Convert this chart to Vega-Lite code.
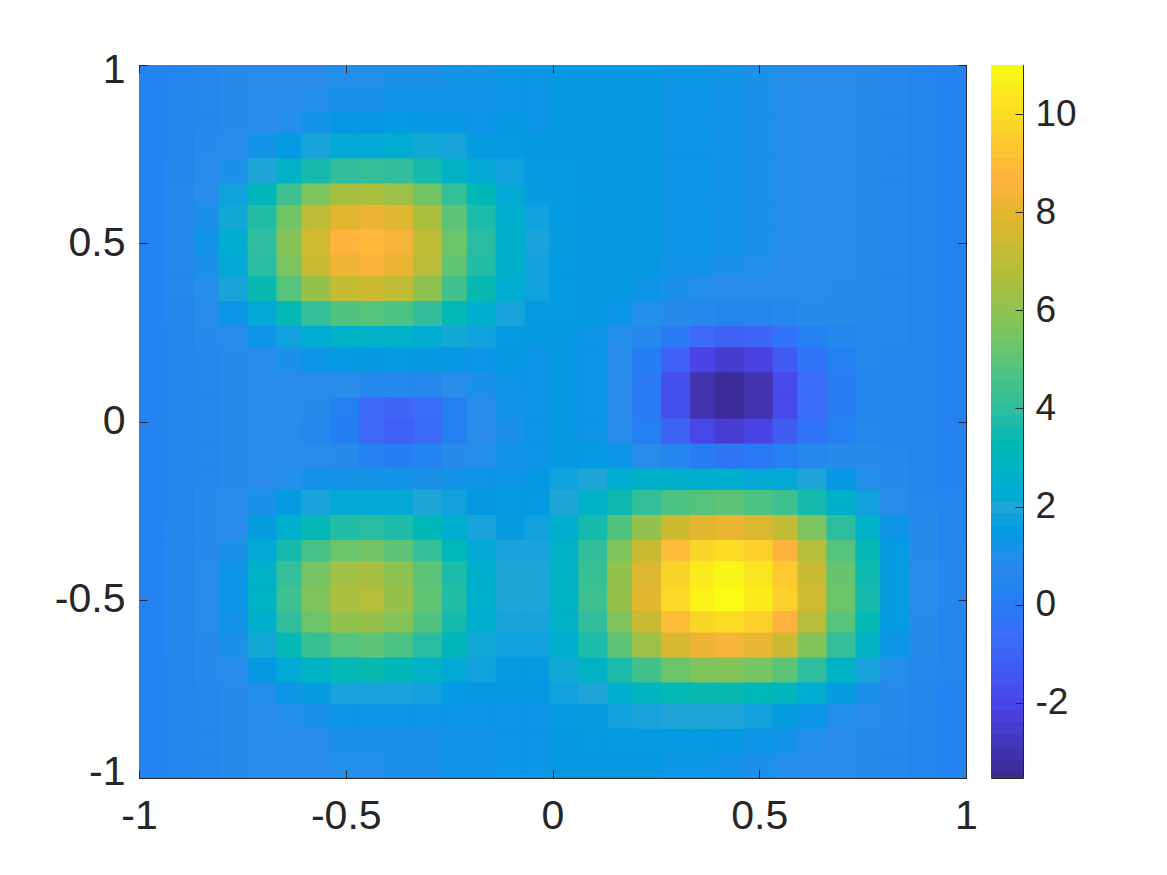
{"$schema":"https://vega.github.io/schema/vega-lite/v6.json","background":"white","padding":{"left":53,"top":48,"right":5,"bottom":5},"config":{"view":{"stroke":"#262626","strokeWidth":1},"font":"Liberation Sans"},"spacing":12,"datasets":{"grid":[
{"x":-0.97,"y":0.97,"v":0.4},{"x":-0.9,"y":0.97,"v":0.5},{"x":-0.83,"y":0.97,"v":0.7},{"x":-0.77,"y":0.97,"v":0.8},{"x":-0.7,"y":0.97,"v":0.9},{"x":-0.63,"y":0.97,"v":0.9},{"x":-0.57,"y":0.97,"v":0.9},{"x":-0.5,"y":0.97,"v":1},{"x":-0.43,"y":0.97,"v":1},{"x":-0.37,"y":0.97,"v":1.1},{"x":-0.3,"y":0.97,"v":1.1},{"x":-0.23,"y":0.97,"v":1.2},{"x":-0.17,"y":0.97,"v":1.2},{"x":-0.1,"y":0.97,"v":1.3},{"x":-0.03,"y":0.97,"v":1.3},{"x":0.03,"y":0.97,"v":1.4},{"x":0.1,"y":0.97,"v":1.4},{"x":0.17,"y":0.97,"v":1.4},{"x":0.23,"y":0.97,"v":1.4},{"x":0.3,"y":0.97,"v":1.3},{"x":0.37,"y":0.97,"v":1.3},{"x":0.43,"y":0.97,"v":1.2},{"x":0.5,"y":0.97,"v":1.1},{"x":0.57,"y":0.97,"v":1},{"x":0.63,"y":0.97,"v":0.9},{"x":0.7,"y":0.97,"v":0.9},{"x":0.77,"y":0.97,"v":0.8},{"x":0.83,"y":0.97,"v":0.7},{"x":0.9,"y":0.97,"v":0.5},{"x":0.97,"y":0.97,"v":0.4},
{"x":-0.97,"y":0.9,"v":0.4},{"x":-0.9,"y":0.9,"v":0.5},{"x":-0.83,"y":0.9,"v":0.7},{"x":-0.77,"y":0.9,"v":0.8},{"x":-0.7,"y":0.9,"v":0.9},{"x":-0.63,"y":0.9,"v":0.9},{"x":-0.57,"y":0.9,"v":1},{"x":-0.5,"y":0.9,"v":1.1},{"x":-0.43,"y":0.9,"v":1.1},{"x":-0.37,"y":0.9,"v":1.2},{"x":-0.3,"y":0.9,"v":1.2},{"x":-0.23,"y":0.9,"v":1.2},{"x":-0.17,"y":0.9,"v":1.2},{"x":-0.1,"y":0.9,"v":1.3},{"x":-0.03,"y":0.9,"v":1.3},{"x":0.03,"y":0.9,"v":1.4},{"x":0.1,"y":0.9,"v":1.4},{"x":0.17,"y":0.9,"v":1.4},{"x":0.23,"y":0.9,"v":1.4},{"x":0.3,"y":0.9,"v":1.3},{"x":0.37,"y":0.9,"v":1.3},{"x":0.43,"y":0.9,"v":1.2},{"x":0.5,"y":0.9,"v":1.1},{"x":0.57,"y":0.9,"v":1},{"x":0.63,"y":0.9,"v":0.9},{"x":0.7,"y":0.9,"v":0.9},{"x":0.77,"y":0.9,"v":0.8},{"x":0.83,"y":0.9,"v":0.7},{"x":0.9,"y":0.9,"v":0.5},{"x":0.97,"y":0.9,"v":0.4},
{"x":-0.97,"y":0.83,"v":0.4},{"x":-0.9,"y":0.83,"v":0.5},{"x":-0.83,"y":0.83,"v":0.7},{"x":-0.77,"y":0.83,"v":0.8},{"x":-0.7,"y":0.83,"v":0.9},{"x":-0.63,"y":0.83,"v":1},{"x":-0.57,"y":0.83,"v":1.2},{"x":-0.5,"y":0.83,"v":1.4},{"x":-0.43,"y":0.83,"v":1.4},{"x":-0.37,"y":0.83,"v":1.5},{"x":-0.3,"y":0.83,"v":1.4},{"x":-0.23,"y":0.83,"v":1.4},{"x":-0.17,"y":0.83,"v":1.3},{"x":-0.1,"y":0.83,"v":1.4},{"x":-0.03,"y":0.83,"v":1.3},{"x":0.03,"y":0.83,"v":1.4},{"x":0.1,"y":0.83,"v":1.4},{"x":0.17,"y":0.83,"v":1.4},{"x":0.23,"y":0.83,"v":1.4},{"x":0.3,"y":0.83,"v":1.3},{"x":0.37,"y":0.83,"v":1.3},{"x":0.43,"y":0.83,"v":1.2},{"x":0.5,"y":0.83,"v":1.1},{"x":0.57,"y":0.83,"v":1},{"x":0.63,"y":0.83,"v":0.9},{"x":0.7,"y":0.83,"v":0.9},{"x":0.77,"y":0.83,"v":0.8},{"x":0.83,"y":0.83,"v":0.7},{"x":0.9,"y":0.83,"v":0.5},{"x":0.97,"y":0.83,"v":0.4},
{"x":-0.97,"y":0.77,"v":0.4},{"x":-0.9,"y":0.77,"v":0.5},{"x":-0.83,"y":0.77,"v":0.8},{"x":-0.77,"y":0.77,"v":0.9},{"x":-0.7,"y":0.77,"v":1.2},{"x":-0.63,"y":0.77,"v":1.5},{"x":-0.57,"y":0.77,"v":1.9},{"x":-0.5,"y":0.77,"v":2.2},{"x":-0.43,"y":0.77,"v":2.2},{"x":-0.37,"y":0.77,"v":2.4},{"x":-0.3,"y":0.77,"v":2.1},{"x":-0.23,"y":0.77,"v":1.9},{"x":-0.17,"y":0.77,"v":1.6},{"x":-0.1,"y":0.77,"v":1.5},{"x":-0.03,"y":0.77,"v":1.4},{"x":0.03,"y":0.77,"v":1.4},{"x":0.1,"y":0.77,"v":1.4},{"x":0.17,"y":0.77,"v":1.4},{"x":0.23,"y":0.77,"v":1.4},{"x":0.3,"y":0.77,"v":1.3},{"x":0.37,"y":0.77,"v":1.3},{"x":0.43,"y":0.77,"v":1.2},{"x":0.5,"y":0.77,"v":1.1},{"x":0.57,"y":0.77,"v":1},{"x":0.63,"y":0.77,"v":0.9},{"x":0.7,"y":0.77,"v":0.9},{"x":0.77,"y":0.77,"v":0.8},{"x":0.83,"y":0.77,"v":0.7},{"x":0.9,"y":0.77,"v":0.5},{"x":0.97,"y":0.77,"v":0.4},
{"x":-0.97,"y":0.7,"v":0.4},{"x":-0.9,"y":0.7,"v":0.6},{"x":-0.83,"y":0.7,"v":0.9},{"x":-0.77,"y":0.7,"v":1.1},{"x":-0.7,"y":0.7,"v":2},{"x":-0.63,"y":0.7,"v":2.8},{"x":-0.57,"y":0.7,"v":3.6},{"x":-0.5,"y":0.7,"v":4.1},{"x":-0.43,"y":0.7,"v":4.2},{"x":-0.37,"y":0.7,"v":4.1},{"x":-0.3,"y":0.7,"v":3.6},{"x":-0.23,"y":0.7,"v":2.8},{"x":-0.17,"y":0.7,"v":2.2},{"x":-0.1,"y":0.7,"v":1.8},{"x":-0.03,"y":0.7,"v":1.5},{"x":0.03,"y":0.7,"v":1.5},{"x":0.1,"y":0.7,"v":1.4},{"x":0.17,"y":0.7,"v":1.4},{"x":0.23,"y":0.7,"v":1.4},{"x":0.3,"y":0.7,"v":1.3},{"x":0.37,"y":0.7,"v":1.3},{"x":0.43,"y":0.7,"v":1.2},{"x":0.5,"y":0.7,"v":1.1},{"x":0.57,"y":0.7,"v":1},{"x":0.63,"y":0.7,"v":0.9},{"x":0.7,"y":0.7,"v":0.9},{"x":0.77,"y":0.7,"v":0.8},{"x":0.83,"y":0.7,"v":0.7},{"x":0.9,"y":0.7,"v":0.5},{"x":0.97,"y":0.7,"v":0.4},
{"x":-0.97,"y":0.63,"v":0.4},{"x":-0.9,"y":0.63,"v":0.7},{"x":-0.83,"y":0.63,"v":0.9},{"x":-0.77,"y":0.63,"v":1.8},{"x":-0.7,"y":0.63,"v":3.1},{"x":-0.63,"y":0.63,"v":4.4},{"x":-0.57,"y":0.63,"v":5.6},{"x":-0.5,"y":0.63,"v":6.5},{"x":-0.43,"y":0.63,"v":6.6},{"x":-0.37,"y":0.63,"v":6.3},{"x":-0.3,"y":0.63,"v":5.4},{"x":-0.23,"y":0.63,"v":4.2},{"x":-0.17,"y":0.63,"v":3.2},{"x":-0.1,"y":0.63,"v":2.2},{"x":-0.03,"y":0.63,"v":1.6},{"x":0.03,"y":0.63,"v":1.5},{"x":0.1,"y":0.63,"v":1.4},{"x":0.17,"y":0.63,"v":1.4},{"x":0.23,"y":0.63,"v":1.4},{"x":0.3,"y":0.63,"v":1.3},{"x":0.37,"y":0.63,"v":1.3},{"x":0.43,"y":0.63,"v":1.2},{"x":0.5,"y":0.63,"v":1.1},{"x":0.57,"y":0.63,"v":1},{"x":0.63,"y":0.63,"v":0.9},{"x":0.7,"y":0.63,"v":0.9},{"x":0.77,"y":0.63,"v":0.8},{"x":0.83,"y":0.63,"v":0.7},{"x":0.9,"y":0.63,"v":0.5},{"x":0.97,"y":0.63,"v":0.4},
{"x":-0.97,"y":0.57,"v":0.4},{"x":-0.9,"y":0.57,"v":0.7},{"x":-0.83,"y":0.57,"v":1.1},{"x":-0.77,"y":0.57,"v":2.1},{"x":-0.7,"y":0.57,"v":3.8},{"x":-0.63,"y":0.57,"v":5.4},{"x":-0.57,"y":0.57,"v":7},{"x":-0.5,"y":0.57,"v":8},{"x":-0.43,"y":0.57,"v":8.3},{"x":-0.37,"y":0.57,"v":7.9},{"x":-0.3,"y":0.57,"v":6.6},{"x":-0.23,"y":0.57,"v":5},{"x":-0.17,"y":0.57,"v":3.7},{"x":-0.1,"y":0.57,"v":2.5},{"x":-0.03,"y":0.57,"v":1.8},{"x":0.03,"y":0.57,"v":1.5},{"x":0.1,"y":0.57,"v":1.4},{"x":0.17,"y":0.57,"v":1.4},{"x":0.23,"y":0.57,"v":1.4},{"x":0.3,"y":0.57,"v":1.3},{"x":0.37,"y":0.57,"v":1.3},{"x":0.43,"y":0.57,"v":1.2},{"x":0.5,"y":0.57,"v":1.1},{"x":0.57,"y":0.57,"v":1},{"x":0.63,"y":0.57,"v":0.9},{"x":0.7,"y":0.57,"v":0.9},{"x":0.77,"y":0.57,"v":0.8},{"x":0.83,"y":0.57,"v":0.7},{"x":0.9,"y":0.57,"v":0.5},{"x":0.97,"y":0.57,"v":0.4},
{"x":-0.97,"y":0.5,"v":0.4},{"x":-0.9,"y":0.5,"v":0.7},{"x":-0.83,"y":0.5,"v":1.2},{"x":-0.77,"y":0.5,"v":2.4},{"x":-0.7,"y":0.5,"v":4},{"x":-0.63,"y":0.5,"v":5.8},{"x":-0.57,"y":0.5,"v":7.5},{"x":-0.5,"y":0.5,"v":8.7},{"x":-0.43,"y":0.5,"v":8.9},{"x":-0.37,"y":0.5,"v":8.5},{"x":-0.3,"y":0.5,"v":7.1},{"x":-0.23,"y":0.5,"v":5.3},{"x":-0.17,"y":0.5,"v":3.9},{"x":-0.1,"y":0.5,"v":2.6},{"x":-0.03,"y":0.5,"v":1.9},{"x":0.03,"y":0.5,"v":1.6},{"x":0.1,"y":0.5,"v":1.4},{"x":0.17,"y":0.5,"v":1.4},{"x":0.23,"y":0.5,"v":1.4},{"x":0.3,"y":0.5,"v":1.3},{"x":0.37,"y":0.5,"v":1.3},{"x":0.43,"y":0.5,"v":1.2},{"x":0.5,"y":0.5,"v":1.1},{"x":0.57,"y":0.5,"v":1},{"x":0.63,"y":0.5,"v":0.9},{"x":0.7,"y":0.5,"v":0.9},{"x":0.77,"y":0.5,"v":0.8},{"x":0.83,"y":0.5,"v":0.7},{"x":0.9,"y":0.5,"v":0.5},{"x":0.97,"y":0.5,"v":0.4},
{"x":-0.97,"y":0.43,"v":0.4},{"x":-0.9,"y":0.43,"v":0.7},{"x":-0.83,"y":0.43,"v":1.1},{"x":-0.77,"y":0.43,"v":2.2},{"x":-0.7,"y":0.43,"v":3.9},{"x":-0.63,"y":0.43,"v":5.6},{"x":-0.57,"y":0.43,"v":7.3},{"x":-0.5,"y":0.43,"v":8.4},{"x":-0.43,"y":0.43,"v":8.6},{"x":-0.37,"y":0.43,"v":8.2},{"x":-0.3,"y":0.43,"v":6.9},{"x":-0.23,"y":0.43,"v":5.1},{"x":-0.17,"y":0.43,"v":3.8},{"x":-0.1,"y":0.43,"v":2.6},{"x":-0.03,"y":0.43,"v":1.8},{"x":0.03,"y":0.43,"v":1.5},{"x":0.1,"y":0.43,"v":1.4},{"x":0.17,"y":0.43,"v":1.4},{"x":0.23,"y":0.43,"v":1.4},{"x":0.3,"y":0.43,"v":1.2},{"x":0.37,"y":0.43,"v":1.2},{"x":0.43,"y":0.43,"v":1.1},{"x":0.5,"y":0.43,"v":1},{"x":0.57,"y":0.43,"v":0.9},{"x":0.63,"y":0.43,"v":0.9},{"x":0.7,"y":0.43,"v":0.9},{"x":0.77,"y":0.43,"v":0.8},{"x":0.83,"y":0.43,"v":0.7},{"x":0.9,"y":0.43,"v":0.5},{"x":0.97,"y":0.43,"v":0.4},
{"x":-0.97,"y":0.37,"v":0.4},{"x":-0.9,"y":0.37,"v":0.7},{"x":-0.83,"y":0.37,"v":1},{"x":-0.77,"y":0.37,"v":1.9},{"x":-0.7,"y":0.37,"v":3.4},{"x":-0.63,"y":0.37,"v":4.9},{"x":-0.57,"y":0.37,"v":6.2},{"x":-0.5,"y":0.37,"v":7.2},{"x":-0.43,"y":0.37,"v":7.4},{"x":-0.37,"y":0.37,"v":7.1},{"x":-0.3,"y":0.37,"v":6},{"x":-0.23,"y":0.37,"v":4.5},{"x":-0.17,"y":0.37,"v":3.4},{"x":-0.1,"y":0.37,"v":2.4},{"x":-0.03,"y":0.37,"v":1.8},{"x":0.03,"y":0.37,"v":1.5},{"x":0.1,"y":0.37,"v":1.4},{"x":0.17,"y":0.37,"v":1.4},{"x":0.23,"y":0.37,"v":1.3},{"x":0.3,"y":0.37,"v":1.1},{"x":0.37,"y":0.37,"v":1},{"x":0.43,"y":0.37,"v":0.9},{"x":0.5,"y":0.37,"v":0.9},{"x":0.57,"y":0.37,"v":0.9},{"x":0.63,"y":0.37,"v":0.9},{"x":0.7,"y":0.37,"v":0.8},{"x":0.77,"y":0.37,"v":0.8},{"x":0.83,"y":0.37,"v":0.7},{"x":0.9,"y":0.37,"v":0.5},{"x":0.97,"y":0.37,"v":0.4},
{"x":-0.97,"y":0.3,"v":0.4},{"x":-0.9,"y":0.3,"v":0.6},{"x":-0.83,"y":0.3,"v":0.9},{"x":-0.77,"y":0.3,"v":1.3},{"x":-0.7,"y":0.3,"v":2.2},{"x":-0.63,"y":0.3,"v":3.3},{"x":-0.57,"y":0.3,"v":4.2},{"x":-0.5,"y":0.3,"v":4.8},{"x":-0.43,"y":0.3,"v":4.9},{"x":-0.37,"y":0.3,"v":4.7},{"x":-0.3,"y":0.3,"v":4.1},{"x":-0.23,"y":0.3,"v":3.3},{"x":-0.17,"y":0.3,"v":2.5},{"x":-0.1,"y":0.3,"v":1.9},{"x":-0.03,"y":0.3,"v":1.5},{"x":0.03,"y":0.3,"v":1.5},{"x":0.1,"y":0.3,"v":1.4},{"x":0.17,"y":0.3,"v":1.3},{"x":0.23,"y":0.3,"v":1},{"x":0.3,"y":0.3,"v":0.8},{"x":0.37,"y":0.3,"v":0.7},{"x":0.43,"y":0.3,"v":0.5},{"x":0.5,"y":0.3,"v":0.5},{"x":0.57,"y":0.3,"v":0.7},{"x":0.63,"y":0.3,"v":0.8},{"x":0.7,"y":0.3,"v":0.8},{"x":0.77,"y":0.3,"v":0.8},{"x":0.83,"y":0.3,"v":0.7},{"x":0.9,"y":0.3,"v":0.5},{"x":0.97,"y":0.3,"v":0.4},
{"x":-0.97,"y":0.23,"v":0.4},{"x":-0.9,"y":0.23,"v":0.5},{"x":-0.83,"y":0.23,"v":0.8},{"x":-0.77,"y":0.23,"v":0.9},{"x":-0.7,"y":0.23,"v":1.3},{"x":-0.63,"y":0.23,"v":1.8},{"x":-0.57,"y":0.23,"v":2.4},{"x":-0.5,"y":0.23,"v":2.7},{"x":-0.43,"y":0.23,"v":2.7},{"x":-0.37,"y":0.23,"v":2.7},{"x":-0.3,"y":0.23,"v":2.4},{"x":-0.23,"y":0.23,"v":2.1},{"x":-0.17,"y":0.23,"v":1.8},{"x":-0.1,"y":0.23,"v":1.5},{"x":-0.03,"y":0.23,"v":1.4},{"x":0.03,"y":0.23,"v":1.4},{"x":0.1,"y":0.23,"v":1.3},{"x":0.17,"y":0.23,"v":1},{"x":0.23,"y":0.23,"v":0.7},{"x":0.3,"y":0.23,"v":-0.1},{"x":0.37,"y":0.23,"v":-0.7},{"x":0.43,"y":0.23,"v":-1},{"x":0.5,"y":0.23,"v":-0.9},{"x":0.57,"y":0.23,"v":-0.3},{"x":0.63,"y":0.23,"v":0.3},{"x":0.7,"y":0.23,"v":0.6},{"x":0.77,"y":0.23,"v":0.7},{"x":0.83,"y":0.23,"v":0.7},{"x":0.9,"y":0.23,"v":0.5},{"x":0.97,"y":0.23,"v":0.4},
{"x":-0.97,"y":0.17,"v":0.4},{"x":-0.9,"y":0.17,"v":0.5},{"x":-0.83,"y":0.17,"v":0.7},{"x":-0.77,"y":0.17,"v":0.8},{"x":-0.7,"y":0.17,"v":0.9},{"x":-0.63,"y":0.17,"v":1.1},{"x":-0.57,"y":0.17,"v":1.3},{"x":-0.5,"y":0.17,"v":1.5},{"x":-0.43,"y":0.17,"v":1.4},{"x":-0.37,"y":0.17,"v":1.5},{"x":-0.3,"y":0.17,"v":1.4},{"x":-0.23,"y":0.17,"v":1.4},{"x":-0.17,"y":0.17,"v":1.3},{"x":-0.1,"y":0.17,"v":1.4},{"x":-0.03,"y":0.17,"v":1.3},{"x":0.03,"y":0.17,"v":1.4},{"x":0.1,"y":0.17,"v":1.3},{"x":0.17,"y":0.17,"v":0.9},{"x":0.23,"y":0.17,"v":0.2},{"x":0.3,"y":0.17,"v":-1.1},{"x":0.37,"y":0.17,"v":-2.1},{"x":0.43,"y":0.17,"v":-2.5},{"x":0.5,"y":0.17,"v":-2.2},{"x":0.57,"y":0.17,"v":-1.3},{"x":0.63,"y":0.17,"v":-0.3},{"x":0.7,"y":0.17,"v":0.3},{"x":0.77,"y":0.17,"v":0.7},{"x":0.83,"y":0.17,"v":0.6},{"x":0.9,"y":0.17,"v":0.5},{"x":0.97,"y":0.17,"v":0.4},
{"x":-0.97,"y":0.1,"v":0.4},{"x":-0.9,"y":0.1,"v":0.5},{"x":-0.83,"y":0.1,"v":0.7},{"x":-0.77,"y":0.1,"v":0.8},{"x":-0.7,"y":0.1,"v":0.9},{"x":-0.63,"y":0.1,"v":0.9},{"x":-0.57,"y":0.1,"v":0.9},{"x":-0.5,"y":0.1,"v":0.9},{"x":-0.43,"y":0.1,"v":0.7},{"x":-0.37,"y":0.1,"v":0.7},{"x":-0.3,"y":0.1,"v":0.7},{"x":-0.23,"y":0.1,"v":0.9},{"x":-0.17,"y":0.1,"v":1.1},{"x":-0.1,"y":0.1,"v":1.3},{"x":-0.03,"y":0.1,"v":1.3},{"x":0.03,"y":0.1,"v":1.4},{"x":0.1,"y":0.1,"v":1.3},{"x":0.17,"y":0.1,"v":0.9},{"x":0.23,"y":0.1,"v":-0.1},{"x":0.3,"y":0.1,"v":-1.7},{"x":0.37,"y":0.1,"v":-3},{"x":0.43,"y":0.1,"v":-3.4},{"x":0.5,"y":0.1,"v":-3},{"x":0.57,"y":0.1,"v":-1.9},{"x":0.63,"y":0.1,"v":-0.6},{"x":0.7,"y":0.1,"v":0.1},{"x":0.77,"y":0.1,"v":0.6},{"x":0.83,"y":0.1,"v":0.6},{"x":0.9,"y":0.1,"v":0.5},{"x":0.97,"y":0.1,"v":0.4},
{"x":-0.97,"y":0.03,"v":0.4},{"x":-0.9,"y":0.03,"v":0.5},{"x":-0.83,"y":0.03,"v":0.7},{"x":-0.77,"y":0.03,"v":0.8},{"x":-0.7,"y":0.03,"v":0.9},{"x":-0.63,"y":0.03,"v":0.9},{"x":-0.57,"y":0.03,"v":0.8},{"x":-0.5,"y":0.03,"v":0.3},{"x":-0.43,"y":0.03,"v":-0.7},{"x":-0.37,"y":0.03,"v":-0.9},{"x":-0.3,"y":0.03,"v":-0.6},{"x":-0.23,"y":0.03,"v":0.3},{"x":-0.17,"y":0.03,"v":0.9},{"x":-0.1,"y":0.03,"v":1.2},{"x":-0.03,"y":0.03,"v":1.3},{"x":0.03,"y":0.03,"v":1.4},{"x":0.1,"y":0.03,"v":1.3},{"x":0.17,"y":0.03,"v":0.9},{"x":0.23,"y":0.03,"v":-0.1},{"x":0.3,"y":0.03,"v":-1.7},{"x":0.37,"y":0.03,"v":-3},{"x":0.43,"y":0.03,"v":-3.4},{"x":0.5,"y":0.03,"v":-3},{"x":0.57,"y":0.03,"v":-1.9},{"x":0.63,"y":0.03,"v":-0.6},{"x":0.7,"y":0.03,"v":0.1},{"x":0.77,"y":0.03,"v":0.6},{"x":0.83,"y":0.03,"v":0.6},{"x":0.9,"y":0.03,"v":0.5},{"x":0.97,"y":0.03,"v":0.4},
{"x":-0.97,"y":-0.03,"v":0.4},{"x":-0.9,"y":-0.03,"v":0.5},{"x":-0.83,"y":-0.03,"v":0.7},{"x":-0.77,"y":-0.03,"v":0.8},{"x":-0.7,"y":-0.03,"v":0.9},{"x":-0.63,"y":-0.03,"v":0.9},{"x":-0.57,"y":-0.03,"v":0.7},{"x":-0.5,"y":-0.03,"v":0.2},{"x":-0.43,"y":-0.03,"v":-0.8},{"x":-0.37,"y":-0.03,"v":-1.1},{"x":-0.3,"y":-0.03,"v":-0.7},{"x":-0.23,"y":-0.03,"v":0.3},{"x":-0.17,"y":-0.03,"v":0.9},{"x":-0.1,"y":-0.03,"v":1.1},{"x":-0.03,"y":-0.03,"v":1.3},{"x":0.03,"y":-0.03,"v":1.4},{"x":0.1,"y":-0.03,"v":1.3},{"x":0.17,"y":-0.03,"v":0.9},{"x":0.23,"y":-0.03,"v":0.3},{"x":0.3,"y":-0.03,"v":-1},{"x":0.37,"y":-0.03,"v":-2},{"x":0.43,"y":-0.03,"v":-2.4},{"x":0.5,"y":-0.03,"v":-2.1},{"x":0.57,"y":-0.03,"v":-1.2},{"x":0.63,"y":-0.03,"v":-0.3},{"x":0.7,"y":-0.03,"v":0.3},{"x":0.77,"y":-0.03,"v":0.7},{"x":0.83,"y":-0.03,"v":0.6},{"x":0.9,"y":-0.03,"v":0.5},{"x":0.97,"y":-0.03,"v":0.4},
{"x":-0.97,"y":-0.1,"v":0.4},{"x":-0.9,"y":-0.1,"v":0.5},{"x":-0.83,"y":-0.1,"v":0.7},{"x":-0.77,"y":-0.1,"v":0.8},{"x":-0.7,"y":-0.1,"v":0.9},{"x":-0.63,"y":-0.1,"v":0.9},{"x":-0.57,"y":-0.1,"v":0.9},{"x":-0.5,"y":-0.1,"v":0.8},{"x":-0.43,"y":-0.1,"v":0.3},{"x":-0.37,"y":-0.1,"v":0.2},{"x":-0.3,"y":-0.1,"v":0.4},{"x":-0.23,"y":-0.1,"v":0.8},{"x":-0.17,"y":-0.1,"v":1},{"x":-0.1,"y":-0.1,"v":1.2},{"x":-0.03,"y":-0.1,"v":1.3},{"x":0.03,"y":-0.1,"v":1.4},{"x":0.1,"y":-0.1,"v":1.5},{"x":0.17,"y":-0.1,"v":1.3},{"x":0.23,"y":-0.1,"v":0.9},{"x":0.3,"y":-0.1,"v":0.6},{"x":0.37,"y":-0.1,"v":0.1},{"x":0.43,"y":-0.1,"v":-0.2},{"x":0.5,"y":-0.1,"v":-0.1},{"x":0.57,"y":-0.1,"v":0.3},{"x":0.63,"y":-0.1,"v":0.7},{"x":0.7,"y":-0.1,"v":0.8},{"x":0.77,"y":-0.1,"v":0.8},{"x":0.83,"y":-0.1,"v":0.7},{"x":0.9,"y":-0.1,"v":0.5},{"x":0.97,"y":-0.1,"v":0.4},
{"x":-0.97,"y":-0.17,"v":0.4},{"x":-0.9,"y":-0.17,"v":0.5},{"x":-0.83,"y":-0.17,"v":0.7},{"x":-0.77,"y":-0.17,"v":0.8},{"x":-0.7,"y":-0.17,"v":0.9},{"x":-0.63,"y":-0.17,"v":1},{"x":-0.57,"y":-0.17,"v":1.2},{"x":-0.5,"y":-0.17,"v":1.2},{"x":-0.43,"y":-0.17,"v":1.2},{"x":-0.37,"y":-0.17,"v":1.2},{"x":-0.3,"y":-0.17,"v":1.1},{"x":-0.23,"y":-0.17,"v":1.2},{"x":-0.17,"y":-0.17,"v":1.3},{"x":-0.1,"y":-0.17,"v":1.3},{"x":-0.03,"y":-0.17,"v":1.4},{"x":0.03,"y":-0.17,"v":1.8},{"x":0.1,"y":-0.17,"v":2},{"x":0.17,"y":-0.17,"v":2.4},{"x":0.23,"y":-0.17,"v":2.6},{"x":0.3,"y":-0.17,"v":2.6},{"x":0.37,"y":-0.17,"v":2.5},{"x":0.43,"y":-0.17,"v":2.5},{"x":0.5,"y":-0.17,"v":2.2},{"x":0.57,"y":-0.17,"v":2.2},{"x":0.63,"y":-0.17,"v":2},{"x":0.7,"y":-0.17,"v":1.4},{"x":0.77,"y":-0.17,"v":1},{"x":0.83,"y":-0.17,"v":0.8},{"x":0.9,"y":-0.17,"v":0.6},{"x":0.97,"y":-0.17,"v":0.4},
{"x":-0.97,"y":-0.23,"v":0.4},{"x":-0.9,"y":-0.23,"v":0.5},{"x":-0.83,"y":-0.23,"v":0.8},{"x":-0.77,"y":-0.23,"v":0.9},{"x":-0.7,"y":-0.23,"v":1.1},{"x":-0.63,"y":-0.23,"v":1.5},{"x":-0.57,"y":-0.23,"v":1.9},{"x":-0.5,"y":-0.23,"v":2.2},{"x":-0.43,"y":-0.23,"v":2.2},{"x":-0.37,"y":-0.23,"v":2.2},{"x":-0.3,"y":-0.23,"v":2},{"x":-0.23,"y":-0.23,"v":1.8},{"x":-0.17,"y":-0.23,"v":1.4},{"x":-0.1,"y":-0.23,"v":1.5},{"x":-0.03,"y":-0.23,"v":1.5},{"x":0.03,"y":-0.23,"v":2},{"x":0.1,"y":-0.23,"v":2.7},{"x":0.17,"y":-0.23,"v":3.5},{"x":0.23,"y":-0.23,"v":4.2},{"x":0.3,"y":-0.23,"v":4.7},{"x":0.37,"y":-0.23,"v":4.9},{"x":0.43,"y":-0.23,"v":5},{"x":0.5,"y":-0.23,"v":4.7},{"x":0.57,"y":-0.23,"v":4.4},{"x":0.63,"y":-0.23,"v":3.6},{"x":0.7,"y":-0.23,"v":2.6},{"x":0.77,"y":-0.23,"v":1.8},{"x":0.83,"y":-0.23,"v":0.9},{"x":0.9,"y":-0.23,"v":0.7},{"x":0.97,"y":-0.23,"v":0.5},
{"x":-0.97,"y":-0.3,"v":0.4},{"x":-0.9,"y":-0.3,"v":0.6},{"x":-0.83,"y":-0.3,"v":0.8},{"x":-0.77,"y":-0.3,"v":0.9},{"x":-0.7,"y":-0.3,"v":1.6},{"x":-0.63,"y":-0.3,"v":2.5},{"x":-0.57,"y":-0.3,"v":3.3},{"x":-0.5,"y":-0.3,"v":3.8},{"x":-0.43,"y":-0.3,"v":3.9},{"x":-0.37,"y":-0.3,"v":3.7},{"x":-0.3,"y":-0.3,"v":3.2},{"x":-0.23,"y":-0.3,"v":2.5},{"x":-0.17,"y":-0.3,"v":1.9},{"x":-0.1,"y":-0.3,"v":1.6},{"x":-0.03,"y":-0.3,"v":1.8},{"x":0.03,"y":-0.3,"v":2.5},{"x":0.1,"y":-0.3,"v":3.6},{"x":0.17,"y":-0.3,"v":4.8},{"x":0.23,"y":-0.3,"v":6.1},{"x":0.3,"y":-0.3,"v":7.4},{"x":0.37,"y":-0.3,"v":8},{"x":0.43,"y":-0.3,"v":8.2},{"x":0.5,"y":-0.3,"v":7.8},{"x":0.57,"y":-0.3,"v":7.1},{"x":0.63,"y":-0.3,"v":5.6},{"x":0.7,"y":-0.3,"v":4},{"x":0.77,"y":-0.3,"v":2.7},{"x":0.83,"y":-0.3,"v":1.3},{"x":0.9,"y":-0.3,"v":0.8},{"x":0.97,"y":-0.3,"v":0.5},
{"x":-0.97,"y":-0.37,"v":0.4},{"x":-0.9,"y":-0.37,"v":0.6},{"x":-0.83,"y":-0.37,"v":0.8},{"x":-0.77,"y":-0.37,"v":1.1},{"x":-0.7,"y":-0.37,"v":2.2},{"x":-0.63,"y":-0.37,"v":3.6},{"x":-0.57,"y":-0.37,"v":4.6},{"x":-0.5,"y":-0.37,"v":5.3},{"x":-0.43,"y":-0.37,"v":5.4},{"x":-0.37,"y":-0.37,"v":5},{"x":-0.3,"y":-0.37,"v":4.2},{"x":-0.23,"y":-0.37,"v":3.2},{"x":-0.17,"y":-0.37,"v":2.2},{"x":-0.1,"y":-0.37,"v":1.9},{"x":-0.03,"y":-0.37,"v":1.9},{"x":0.03,"y":-0.37,"v":2.7},{"x":0.1,"y":-0.37,"v":4.1},{"x":0.17,"y":-0.37,"v":5.7},{"x":0.23,"y":-0.37,"v":7.3},{"x":0.3,"y":-0.37,"v":9},{"x":0.37,"y":-0.37,"v":9.8},{"x":0.43,"y":-0.37,"v":10},{"x":0.5,"y":-0.37,"v":9.6},{"x":0.57,"y":-0.37,"v":8.7},{"x":0.63,"y":-0.37,"v":6.8},{"x":0.7,"y":-0.37,"v":4.9},{"x":0.77,"y":-0.37,"v":3.3},{"x":0.83,"y":-0.37,"v":1.5},{"x":0.9,"y":-0.37,"v":0.8},{"x":0.97,"y":-0.37,"v":0.6},
{"x":-0.97,"y":-0.43,"v":0.4},{"x":-0.9,"y":-0.43,"v":0.6},{"x":-0.83,"y":-0.43,"v":0.9},{"x":-0.77,"y":-0.43,"v":1.3},{"x":-0.7,"y":-0.43,"v":2.7},{"x":-0.63,"y":-0.43,"v":4.2},{"x":-0.57,"y":-0.43,"v":5.5},{"x":-0.5,"y":-0.43,"v":6.4},{"x":-0.43,"y":-0.43,"v":6.5},{"x":-0.37,"y":-0.43,"v":6},{"x":-0.3,"y":-0.43,"v":5},{"x":-0.23,"y":-0.43,"v":3.7},{"x":-0.17,"y":-0.43,"v":2.6},{"x":-0.1,"y":-0.43,"v":2},{"x":-0.03,"y":-0.43,"v":2},{"x":0.03,"y":-0.43,"v":2.8},{"x":0.1,"y":-0.43,"v":4.3},{"x":0.17,"y":-0.43,"v":6.1},{"x":0.23,"y":-0.43,"v":7.8},{"x":0.3,"y":-0.43,"v":9.7},{"x":0.37,"y":-0.43,"v":10.5},{"x":0.43,"y":-0.43,"v":10.8},{"x":0.5,"y":-0.43,"v":10.3},{"x":0.57,"y":-0.43,"v":9.4},{"x":0.63,"y":-0.43,"v":7.3},{"x":0.7,"y":-0.43,"v":5.2},{"x":0.77,"y":-0.43,"v":3.5},{"x":0.83,"y":-0.43,"v":1.6},{"x":0.9,"y":-0.43,"v":0.9},{"x":0.97,"y":-0.43,"v":0.6},
{"x":-0.97,"y":-0.5,"v":0.4},{"x":-0.9,"y":-0.5,"v":0.6},{"x":-0.83,"y":-0.5,"v":0.9},{"x":-0.77,"y":-0.5,"v":1.3},{"x":-0.7,"y":-0.5,"v":2.8},{"x":-0.63,"y":-0.5,"v":4.4},{"x":-0.57,"y":-0.5,"v":5.7},{"x":-0.5,"y":-0.5,"v":6.6},{"x":-0.43,"y":-0.5,"v":6.8},{"x":-0.37,"y":-0.5,"v":6.2},{"x":-0.3,"y":-0.5,"v":5.1},{"x":-0.23,"y":-0.5,"v":3.8},{"x":-0.17,"y":-0.5,"v":2.6},{"x":-0.1,"y":-0.5,"v":2},{"x":-0.03,"y":-0.5,"v":2},{"x":0.03,"y":-0.5,"v":2.8},{"x":0.1,"y":-0.5,"v":4.4},{"x":0.17,"y":-0.5,"v":6.2},{"x":0.23,"y":-0.5,"v":8},{"x":0.3,"y":-0.5,"v":9.9},{"x":0.37,"y":-0.5,"v":10.7},{"x":0.43,"y":-0.5,"v":11},{"x":0.5,"y":-0.5,"v":10.5},{"x":0.57,"y":-0.5,"v":9.6},{"x":0.63,"y":-0.5,"v":7.5},{"x":0.7,"y":-0.5,"v":5.3},{"x":0.77,"y":-0.5,"v":3.6},{"x":0.83,"y":-0.5,"v":1.6},{"x":0.9,"y":-0.5,"v":0.9},{"x":0.97,"y":-0.5,"v":0.6},
{"x":-0.97,"y":-0.57,"v":0.4},{"x":-0.9,"y":-0.57,"v":0.6},{"x":-0.83,"y":-0.57,"v":0.9},{"x":-0.77,"y":-0.57,"v":1.2},{"x":-0.7,"y":-0.57,"v":2.6},{"x":-0.63,"y":-0.57,"v":4.1},{"x":-0.57,"y":-0.57,"v":5.3},{"x":-0.5,"y":-0.57,"v":6.1},{"x":-0.43,"y":-0.57,"v":6.2},{"x":-0.37,"y":-0.57,"v":5.8},{"x":-0.3,"y":-0.57,"v":4.8},{"x":-0.23,"y":-0.57,"v":3.6},{"x":-0.17,"y":-0.57,"v":2.5},{"x":-0.1,"y":-0.57,"v":1.9},{"x":-0.03,"y":-0.57,"v":1.9},{"x":0.03,"y":-0.57,"v":2.7},{"x":0.1,"y":-0.57,"v":4.1},{"x":0.17,"y":-0.57,"v":5.7},{"x":0.23,"y":-0.57,"v":7.3},{"x":0.3,"y":-0.57,"v":9},{"x":0.37,"y":-0.57,"v":9.8},{"x":0.43,"y":-0.57,"v":10},{"x":0.5,"y":-0.57,"v":9.6},{"x":0.57,"y":-0.57,"v":8.7},{"x":0.63,"y":-0.57,"v":6.8},{"x":0.7,"y":-0.57,"v":4.9},{"x":0.77,"y":-0.57,"v":3.3},{"x":0.83,"y":-0.57,"v":1.5},{"x":0.9,"y":-0.57,"v":0.8},{"x":0.97,"y":-0.57,"v":0.6},
{"x":-0.97,"y":-0.63,"v":0.4},{"x":-0.9,"y":-0.63,"v":0.6},{"x":-0.83,"y":-0.63,"v":0.8},{"x":-0.77,"y":-0.63,"v":1.1},{"x":-0.7,"y":-0.63,"v":2.1},{"x":-0.63,"y":-0.63,"v":3.3},{"x":-0.57,"y":-0.63,"v":4.3},{"x":-0.5,"y":-0.63,"v":4.9},{"x":-0.43,"y":-0.63,"v":5},{"x":-0.37,"y":-0.63,"v":4.7},{"x":-0.3,"y":-0.63,"v":3.9},{"x":-0.23,"y":-0.63,"v":3.1},{"x":-0.17,"y":-0.63,"v":2.1},{"x":-0.1,"y":-0.63,"v":1.8},{"x":-0.03,"y":-0.63,"v":1.8},{"x":0.03,"y":-0.63,"v":2.5},{"x":0.1,"y":-0.63,"v":3.7},{"x":0.17,"y":-0.63,"v":5},{"x":0.23,"y":-0.63,"v":6.3},{"x":0.3,"y":-0.63,"v":7.7},{"x":0.37,"y":-0.63,"v":8.3},{"x":0.43,"y":-0.63,"v":8.5},{"x":0.5,"y":-0.63,"v":8.1},{"x":0.57,"y":-0.63,"v":7.4},{"x":0.63,"y":-0.63,"v":5.8},{"x":0.7,"y":-0.63,"v":4.2},{"x":0.77,"y":-0.63,"v":2.8},{"x":0.83,"y":-0.63,"v":1.3},{"x":0.9,"y":-0.63,"v":0.8},{"x":0.97,"y":-0.63,"v":0.5},
{"x":-0.97,"y":-0.7,"v":0.4},{"x":-0.9,"y":-0.7,"v":0.5},{"x":-0.83,"y":-0.7,"v":0.8},{"x":-0.77,"y":-0.7,"v":0.9},{"x":-0.7,"y":-0.7,"v":1.4},{"x":-0.63,"y":-0.7,"v":2.2},{"x":-0.57,"y":-0.7,"v":2.8},{"x":-0.5,"y":-0.7,"v":3.3},{"x":-0.43,"y":-0.7,"v":3.4},{"x":-0.37,"y":-0.7,"v":3.2},{"x":-0.3,"y":-0.7,"v":2.7},{"x":-0.23,"y":-0.7,"v":2.2},{"x":-0.17,"y":-0.7,"v":1.8},{"x":-0.1,"y":-0.7,"v":1.5},{"x":-0.03,"y":-0.7,"v":1.5},{"x":0.03,"y":-0.7,"v":2.1},{"x":0.1,"y":-0.7,"v":2.8},{"x":0.17,"y":-0.7,"v":3.7},{"x":0.23,"y":-0.7,"v":4.5},{"x":0.3,"y":-0.7,"v":5.3},{"x":0.37,"y":-0.7,"v":5.7},{"x":0.43,"y":-0.7,"v":5.8},{"x":0.5,"y":-0.7,"v":5.5},{"x":0.57,"y":-0.7,"v":5},{"x":0.63,"y":-0.7,"v":4},{"x":0.7,"y":-0.7,"v":2.8},{"x":0.77,"y":-0.7,"v":1.9},{"x":0.83,"y":-0.7,"v":1},{"x":0.9,"y":-0.7,"v":0.7},{"x":0.97,"y":-0.7,"v":0.5},
{"x":-0.97,"y":-0.77,"v":0.4},{"x":-0.9,"y":-0.77,"v":0.5},{"x":-0.83,"y":-0.77,"v":0.7},{"x":-0.77,"y":-0.77,"v":0.8},{"x":-0.7,"y":-0.77,"v":1},{"x":-0.63,"y":-0.77,"v":1.3},{"x":-0.57,"y":-0.77,"v":1.6},{"x":-0.5,"y":-0.77,"v":1.9},{"x":-0.43,"y":-0.77,"v":1.9},{"x":-0.37,"y":-0.77,"v":1.9},{"x":-0.3,"y":-0.77,"v":1.8},{"x":-0.23,"y":-0.77,"v":1.5},{"x":-0.17,"y":-0.77,"v":1.4},{"x":-0.1,"y":-0.77,"v":1.4},{"x":-0.03,"y":-0.77,"v":1.4},{"x":0.03,"y":-0.77,"v":1.8},{"x":0.1,"y":-0.77,"v":2},{"x":0.17,"y":-0.77,"v":2.5},{"x":0.23,"y":-0.77,"v":3},{"x":0.3,"y":-0.77,"v":3.3},{"x":0.37,"y":-0.77,"v":3.4},{"x":0.43,"y":-0.77,"v":3.4},{"x":0.5,"y":-0.77,"v":3.2},{"x":0.57,"y":-0.77,"v":3},{"x":0.63,"y":-0.77,"v":2.4},{"x":0.7,"y":-0.77,"v":1.6},{"x":0.77,"y":-0.77,"v":1.1},{"x":0.83,"y":-0.77,"v":0.8},{"x":0.9,"y":-0.77,"v":0.6},{"x":0.97,"y":-0.77,"v":0.4},
{"x":-0.97,"y":-0.83,"v":0.4},{"x":-0.9,"y":-0.83,"v":0.5},{"x":-0.83,"y":-0.83,"v":0.7},{"x":-0.77,"y":-0.83,"v":0.8},{"x":-0.7,"y":-0.83,"v":0.9},{"x":-0.63,"y":-0.83,"v":1},{"x":-0.57,"y":-0.83,"v":1.1},{"x":-0.5,"y":-0.83,"v":1.3},{"x":-0.43,"y":-0.83,"v":1.3},{"x":-0.37,"y":-0.83,"v":1.3},{"x":-0.3,"y":-0.83,"v":1.3},{"x":-0.23,"y":-0.83,"v":1.3},{"x":-0.17,"y":-0.83,"v":1.3},{"x":-0.1,"y":-0.83,"v":1.3},{"x":-0.03,"y":-0.83,"v":1.3},{"x":0.03,"y":-0.83,"v":1.5},{"x":0.1,"y":-0.83,"v":1.6},{"x":0.17,"y":-0.83,"v":1.8},{"x":0.23,"y":-0.83,"v":1.9},{"x":0.3,"y":-0.83,"v":2},{"x":0.37,"y":-0.83,"v":2},{"x":0.43,"y":-0.83,"v":2},{"x":0.5,"y":-0.83,"v":1.8},{"x":0.57,"y":-0.83,"v":1.6},{"x":0.63,"y":-0.83,"v":1.3},{"x":0.7,"y":-0.83,"v":1},{"x":0.77,"y":-0.83,"v":0.9},{"x":0.83,"y":-0.83,"v":0.8},{"x":0.9,"y":-0.83,"v":0.5},{"x":0.97,"y":-0.83,"v":0.4},
{"x":-0.97,"y":-0.9,"v":0.4},{"x":-0.9,"y":-0.9,"v":0.5},{"x":-0.83,"y":-0.9,"v":0.7},{"x":-0.77,"y":-0.9,"v":0.8},{"x":-0.7,"y":-0.9,"v":0.9},{"x":-0.63,"y":-0.9,"v":0.9},{"x":-0.57,"y":-0.9,"v":0.9},{"x":-0.5,"y":-0.9,"v":1.1},{"x":-0.43,"y":-0.9,"v":1.1},{"x":-0.37,"y":-0.9,"v":1.1},{"x":-0.3,"y":-0.9,"v":1.1},{"x":-0.23,"y":-0.9,"v":1.2},{"x":-0.17,"y":-0.9,"v":1.2},{"x":-0.1,"y":-0.9,"v":1.3},{"x":-0.03,"y":-0.9,"v":1.3},{"x":0.03,"y":-0.9,"v":1.4},{"x":0.1,"y":-0.9,"v":1.5},{"x":0.17,"y":-0.9,"v":1.5},{"x":0.23,"y":-0.9,"v":1.5},{"x":0.3,"y":-0.9,"v":1.5},{"x":0.37,"y":-0.9,"v":1.5},{"x":0.43,"y":-0.9,"v":1.4},{"x":0.5,"y":-0.9,"v":1.3},{"x":0.57,"y":-0.9,"v":1.2},{"x":0.63,"y":-0.9,"v":1},{"x":0.7,"y":-0.9,"v":0.9},{"x":0.77,"y":-0.9,"v":0.8},{"x":0.83,"y":-0.9,"v":0.7},{"x":0.9,"y":-0.9,"v":0.5},{"x":0.97,"y":-0.9,"v":0.4},
{"x":-0.97,"y":-0.97,"v":0.4},{"x":-0.9,"y":-0.97,"v":0.5},{"x":-0.83,"y":-0.97,"v":0.7},{"x":-0.77,"y":-0.97,"v":0.8},{"x":-0.7,"y":-0.97,"v":0.9},{"x":-0.63,"y":-0.97,"v":0.9},{"x":-0.57,"y":-0.97,"v":0.9},{"x":-0.5,"y":-0.97,"v":1},{"x":-0.43,"y":-0.97,"v":1},{"x":-0.37,"y":-0.97,"v":1.1},{"x":-0.3,"y":-0.97,"v":1.1},{"x":-0.23,"y":-0.97,"v":1.2},{"x":-0.17,"y":-0.97,"v":1.2},{"x":-0.1,"y":-0.97,"v":1.3},{"x":-0.03,"y":-0.97,"v":1.3},{"x":0.03,"y":-0.97,"v":1.4},{"x":0.1,"y":-0.97,"v":1.4},{"x":0.17,"y":-0.97,"v":1.4},{"x":0.23,"y":-0.97,"v":1.4},{"x":0.3,"y":-0.97,"v":1.3},{"x":0.37,"y":-0.97,"v":1.3},{"x":0.43,"y":-0.97,"v":1.2},{"x":0.5,"y":-0.97,"v":1.1},{"x":0.57,"y":-0.97,"v":1},{"x":0.63,"y":-0.97,"v":0.9},{"x":0.7,"y":-0.97,"v":0.9},{"x":0.77,"y":-0.97,"v":0.8},{"x":0.83,"y":-0.97,"v":0.7},{"x":0.9,"y":-0.97,"v":0.5},{"x":0.97,"y":-0.97,"v":0.4}
],"origin":[{"x":0,"y":0}],"bar":[{"v":-3.5},{"v":-3.25},{"v":-3},{"v":-2.75},{"v":-2.5},{"v":-2.25},{"v":-2},{"v":-1.75},{"v":-1.5},{"v":-1.25},{"v":-1},{"v":-0.75},{"v":-0.5},{"v":-0.25},{"v":0},{"v":0.25},{"v":0.5},{"v":0.75},{"v":1},{"v":1.25},{"v":1.5},{"v":1.75},{"v":2},{"v":2.25},{"v":2.5},{"v":2.75},{"v":3},{"v":3.25},{"v":3.5},{"v":3.75},{"v":4},{"v":4.25},{"v":4.5},{"v":4.75},{"v":5},{"v":5.25},{"v":5.5},{"v":5.75},{"v":6},{"v":6.25},{"v":6.5},{"v":6.75},{"v":7},{"v":7.25},{"v":7.5},{"v":7.75},{"v":8},{"v":8.25},{"v":8.5},{"v":8.75},{"v":9},{"v":9.25},{"v":9.5},{"v":9.75},{"v":10},{"v":10.25},{"v":10.5},{"v":10.75},{"v":11}]},"hconcat":[{"width":827,"height":713,"resolve":{"axis":{"x":"independent","y":"independent"}},"layer":[{"data":{"name":"grid"},"mark":{"type":"rect","width":31,"height":27,"clip":true},"encoding":{"x":{"field":"x","type":"quantitative","scale":{"domain":[-1,1],"nice":false,"zero":false},"axis":{"orient":"bottom","title":null,"values":[-1,-0.5,0,0.5,1],"grid":false,"domain":false,"tickSize":-8,"tickColor":"#262626","labelColor":"#262626","labelFontSize":41,"labelPadding":26,"labelOverlap":false,"labelFlush":false,"zindex":1,"labelExpr":"replace(format(datum.value,'~g'),'−','-')"}},"y":{"field":"y","type":"quantitative","scale":{"domain":[-1,1],"nice":false,"zero":false},"axis":{"orient":"left","title":null,"values":[-1,-0.5,0,0.5,1],"grid":false,"domain":false,"tickSize":-8,"tickColor":"#262626","labelColor":"#262626","labelFontSize":41,"labelPadding":22,"labelOverlap":false,"labelFlush":true,"labelFlushOffset":15,"zindex":1,"labelExpr":"replace(format(datum.value,'~g'),'−','-')"}},"color":{"field":"v","type":"quantitative","legend":null,"scale":{"domain":[-3.53,-2.05,-0.6,0.9,2,3,4,5.3,6.8,8,8.7,9.7,11],"range":["#3a2a90","#4a44e8","#3c6df8","#2a8cea","#1fa5d8","#00b5bd","#2fbd9f","#6cc46a","#b5bd3a","#e3b630","#fdb33e","#fad32a","#f9fb15"]}}}},{"data":{"name":"origin"},"mark":{"type":"point","opacity":0},"encoding":{"x":{"field":"x","type":"quantitative","axis":{"orient":"top","title":null,"values":[-1,-0.5,0,0.5,1],"grid":false,"domain":false,"labels":false,"tickSize":-8,"tickColor":"#262626","zindex":1}},"y":{"field":"y","type":"quantitative","axis":{"orient":"right","title":null,"values":[-1,-0.5,0,0.5,1],"grid":false,"domain":false,"labels":false,"tickSize":-8,"tickColor":"#262626","zindex":1}}}}]},{"width":32,"height":713,"data":{"name":"bar"},"mark":{"type":"rect","height":14,"clip":true},"encoding":{"y":{"field":"v","type":"quantitative","scale":{"domain":[-3.53,11],"nice":false,"zero":false},"axis":{"orient":"right","title":null,"values":[-2,0,2,4,6,8,10],"grid":false,"domain":false,"tickSize":-8,"tickColor":"#262626","labelColor":"#262626","labelFontSize":37,"labelPadding":20,"labelOverlap":false,"labelFlush":false,"zindex":1,"labelExpr":"replace(format(datum.value,'~g'),'−','-')"}},"color":{"field":"v","type":"quantitative","legend":null,"scale":{"domain":[-3.53,-2.05,-0.6,0.9,2,3,4,5.3,6.8,8,8.7,9.7,11],"range":["#3a2a90","#4a44e8","#3c6df8","#2a8cea","#1fa5d8","#00b5bd","#2fbd9f","#6cc46a","#b5bd3a","#e3b630","#fdb33e","#fad32a","#f9fb15"]}}}}]}
